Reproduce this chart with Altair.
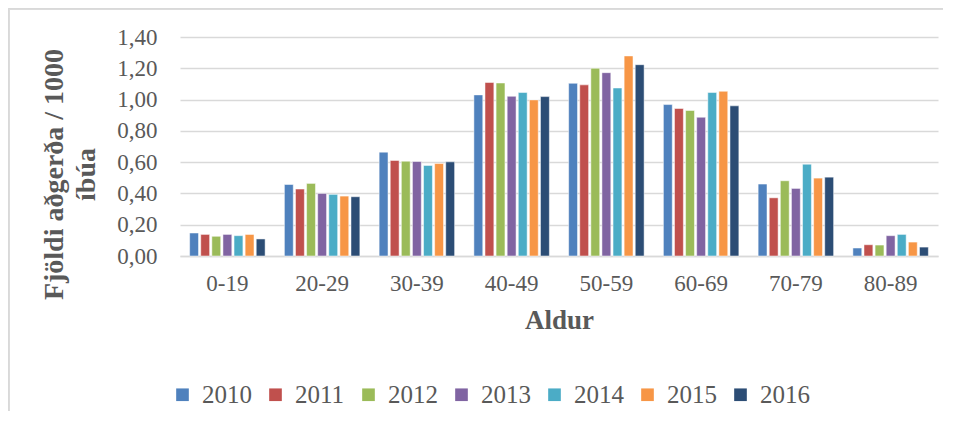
import altair as alt
import pandas as pd

age_groups = ["0-19", "20-29", "30-39", "40-49", "50-59", "60-69", "70-79", "80-89"]
years = ["2010", "2011", "2012", "2013", "2014", "2015", "2016"]
v2010 = [0.147, 0.457, 0.664, 1.030, 1.104, 0.968, 0.460, 0.051]
v2011 = [0.138, 0.428, 0.611, 1.109, 1.094, 0.943, 0.372, 0.072]
v2012 = [0.126, 0.464, 0.606, 1.106, 1.200, 0.930, 0.481, 0.070]
v2013 = [0.138, 0.400, 0.604, 1.021, 1.172, 0.887, 0.432, 0.130]
v2014 = [0.130, 0.394, 0.579, 1.045, 1.074, 1.045, 0.587, 0.138]
v2015 = [0.138, 0.383, 0.591, 0.998, 1.279, 1.053, 0.498, 0.089]
v2016 = [0.109, 0.379, 0.602, 1.019, 1.223, 0.960, 0.504, 0.057]
colors = ["#4F81BD", "#C0504D", "#9BBB59", "#8064A2", "#4BACC6", "#F79646", "#2C4D75"]

series = [v2010, v2011, v2012, v2013, v2014, v2015, v2016]
rows = []
for y, vals in zip(years, series):
    for a, v in zip(age_groups, vals):
        rows.append({"Aldur": a, "Ár": y, "value": v})
df = pd.DataFrame(rows)

W, H = 758, 219
PL, PT = 172, 29
FONT = "Liberation Serif"

bars = alt.Chart(df).mark_bar(stroke="white", strokeWidth=0.5).encode(
    x=alt.X("Aldur:N", sort=age_groups,
            scale=alt.Scale(paddingInner=0.18, paddingOuter=0.09),
            axis=alt.Axis(title="Aldur", labelAngle=0, ticks=False,
                          domainColor="#D9D9D9", domainWidth=1.5,
                          labelFont=FONT, labelFontSize=23, labelColor="#595959",
                          labelPadding=16,
                          titleFont=FONT, titleFontSize=27, titleFontWeight="bold",
                          titleColor="#595959", titlePadding=12)),
    xOffset=alt.XOffset("Ár:N", sort=years,
                        scale=alt.Scale(paddingInner=0.2, paddingOuter=0.1)),
    y=alt.Y("value:Q",
            scale=alt.Scale(domain=[0, 1.4], nice=False),
            axis=alt.Axis(title=["Fjöldi aðgerða / 1000", "íbúa"],
                          values=[0, 0.2, 0.4, 0.6, 0.8, 1.0, 1.2, 1.4],
                          labelExpr="replace(format(datum.value, '.2f'), '.', ',')",
                          ticks=False, domain=False,
                          gridColor="#D9D9D9", gridWidth=1.5,
                          labelFont=FONT, labelFontSize=23, labelColor="#595959",
                          labelPadding=23,
                          titleFont=FONT, titleFontSize=28, titleFontWeight="bold",
                          titleColor="#595959", titleAngle=270,
                          titleBaseline="top", titleAlign="center",
                          titleX=-140, titleY=137, titleLineHeight=32)),
    color=alt.Color("Ár:N", sort=years,
                    scale=alt.Scale(domain=years, range=colors),
                    legend=alt.Legend(title=None, orient="none", direction="horizontal",
                                      legendX=-10, legendY=345,
                                      symbolType="square", symbolSize=160,
                                      symbolStrokeWidth=0,
                                      labelFont=FONT, labelFontSize=25,
                                      labelColor="#595959", labelOffset=7,
                                      columnPadding=11)),
)

border_top = alt.Chart(df).mark_rule(color="#D9D9D9", strokeWidth=1.5).encode(
    x=alt.value(-PL + 0.5), x2=alt.value(W + 40), y=alt.value(-PT + 0.5))
border_left = alt.Chart(df).mark_rule(color="#D9D9D9", strokeWidth=1.5).encode(
    x=alt.value(-PL + 0.5), y=alt.value(-PT + 0.5), y2=alt.value(H + 200))

chart = alt.layer(bars, border_top, border_left).properties(
    width=W, height=H,
    autosize=alt.AutoSizeParams(type="none"),
    padding={"left": PL, "top": PT, "right": 5, "bottom": 155},
).configure(background="white").configure_view(stroke=None)

chart.save("out.html", embed_options={"renderer": "svg", "actions": False})
